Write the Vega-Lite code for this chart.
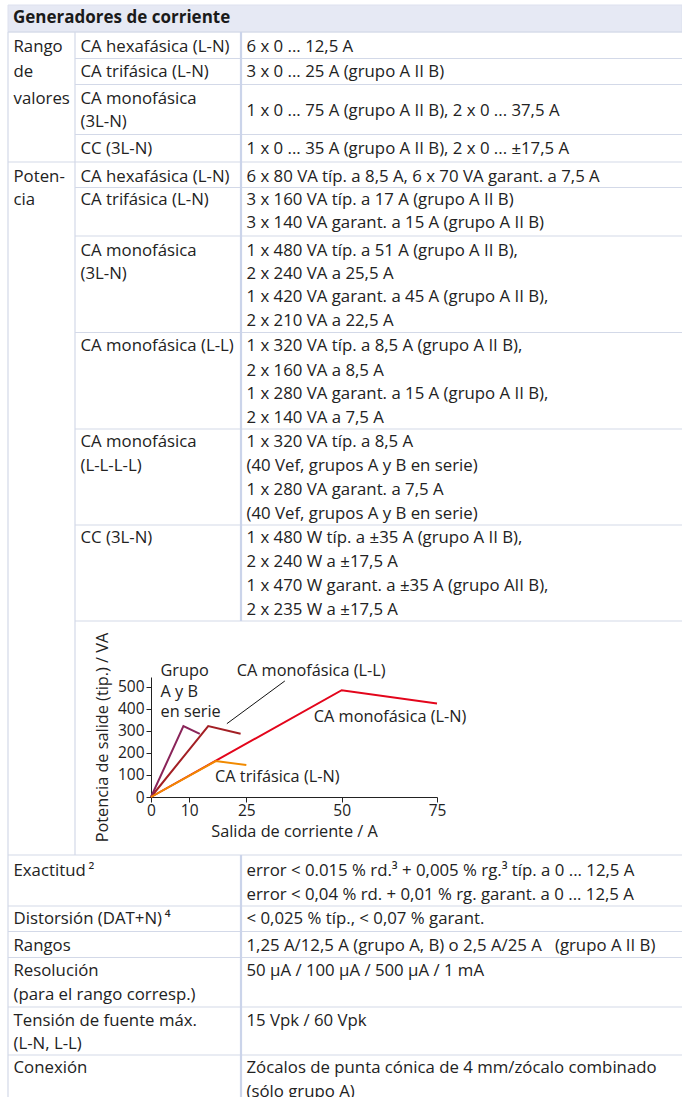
{
  "$schema": "https://vega.github.io/schema/vega-lite/v6.json",
  "width": 682,
  "height": 1097,
  "autosize": {"type": "fit", "contains": "padding"},
  "padding": 0,
  "background": "white",
  "config": {"view": {"stroke": null}, "font": "Open Sans"},
  "datasets": {
    "band": [{"x1": 0, "x2": 3, "y1": -0.5, "y2": 0.5}],
    "hl": [
      {"y": 0.5, "x1": 0, "x2": 3},
      {"y": 1.5, "x1": 1, "x2": 3},
      {"y": 2.5, "x1": 1, "x2": 3},
      {"y": 4.5, "x1": 1, "x2": 3},
      {"y": 5.5, "x1": 0, "x2": 3},
      {"y": 6.5, "x1": 1, "x2": 3},
      {"y": 8.5, "x1": 1, "x2": 3},
      {"y": 12.5, "x1": 1, "x2": 3},
      {"y": 16.5, "x1": 1, "x2": 3},
      {"y": 20.5, "x1": 1, "x2": 3},
      {"y": 24.5, "x1": 1, "x2": 3},
      {"y": 25.5, "x1": 0, "x2": 3},
      {"y": 27.5, "x1": 0, "x2": 3},
      {"y": 28.5, "x1": 0, "x2": 3},
      {"y": 29.5, "x1": 0, "x2": 3},
      {"y": 31.5, "x1": 0, "x2": 3},
      {"y": 33.5, "x1": 0, "x2": 3}
    ],
    "vthin": [
      {"x": 0, "y1": 0.5, "y2": 35.5},
      {"x": 1, "y1": 0.5, "y2": 25.5}
    ],
    "vthick": [
      {"x": 2, "y1": 0.5, "y2": 24.5},
      {"x": 2, "y1": 25.5, "y2": 35.5}
    ],
    "head": [{"c": 0, "l": 0, "t": "Generadores de corriente"}],
    "cells": [
      {"c": 0, "l": 1, "t": "Rango"},
      {"c": 1, "l": 1, "t": "CA hexafásica (L-N)"},
      {"c": 2, "l": 1, "t": "6 x 0 ... 12,5 A"},
      {"c": 0, "l": 2, "t": "de"},
      {"c": 1, "l": 2, "t": "CA trifásica (L-N)"},
      {"c": 2, "l": 2, "t": "3 x 0 ... 25 A (grupo A II B)"},
      {"c": 0, "l": 3, "t": "valores"},
      {"c": 1, "l": 3, "t": "CA monofásica"},
      {"c": 1, "l": 4, "t": "(3L-N)"},
      {"c": 2, "l": 3.5, "t": "1 x 0 ... 75 A (grupo A II B), 2 x 0 ... 37,5 A"},
      {"c": 1, "l": 5, "t": "CC (3L-N)"},
      {"c": 2, "l": 5, "t": "1 x 0 ... 35 A (grupo A II B), 2 x 0 ... ±17,5 A"},
      {"c": 0, "l": 6, "t": "Poten-"},
      {"c": 1, "l": 6, "t": "CA hexafásica (L-N)"},
      {"c": 2, "l": 6, "t": "6 x 80 VA típ. a 8,5 A, 6 x 70 VA garant. a 7,5 A"},
      {"c": 0, "l": 7, "t": "cia"},
      {"c": 1, "l": 7, "t": "CA trifásica (L-N)"},
      {"c": 2, "l": 7, "t": "3 x 160 VA típ. a 17 A (grupo A II B)"},
      {"c": 2, "l": 8, "t": "3 x 140 VA garant. a 15 A (grupo A II B)"},
      {"c": 1, "l": 9, "t": "CA monofásica"},
      {"c": 2, "l": 9, "t": "1 x 480 VA típ. a 51 A (grupo A II B),"},
      {"c": 1, "l": 10, "t": "(3L-N)"},
      {"c": 2, "l": 10, "t": "2 x 240 VA a 25,5 A"},
      {"c": 2, "l": 11, "t": "1 x 420 VA garant. a 45 A (grupo A II B),"},
      {"c": 2, "l": 12, "t": "2 x 210 VA a 22,5 A"},
      {"c": 1, "l": 13, "t": "CA monofásica (L-L)"},
      {"c": 2, "l": 13, "t": "1 x 320 VA típ. a 8,5 A (grupo A II B),"},
      {"c": 2, "l": 14, "t": "2 x 160 VA a 8,5 A"},
      {"c": 2, "l": 15, "t": "1 x 280 VA garant. a 15 A (grupo A II B),"},
      {"c": 2, "l": 16, "t": "2 x 140 VA a 7,5 A"},
      {"c": 1, "l": 17, "t": "CA monofásica"},
      {"c": 2, "l": 17, "t": "1 x 320 VA típ. a 8,5 A"},
      {"c": 1, "l": 18, "t": "(L-L-L-L)"},
      {"c": 2, "l": 18, "t": "(40 Vef, grupos A y B en serie)"},
      {"c": 2, "l": 19, "t": "1 x 280 VA garant. a 7,5 A"},
      {"c": 2, "l": 20, "t": "(40 Vef, grupos A y B en serie)"},
      {"c": 1, "l": 21, "t": "CC (3L-N)"},
      {"c": 2, "l": 21, "t": "1 x 480 W típ. a ±35 A (grupo A II B),"},
      {"c": 2, "l": 22, "t": "2 x 240 W a ±17,5 A"},
      {"c": 2, "l": 23, "t": "1 x 470 W garant. a ±35 A (grupo AII B),"},
      {"c": 2, "l": 24, "t": "2 x 235 W a ±17,5 A"},
      {"c": 0, "l": 26, "t": "Exactitud\u2009²"},
      {"c": 2, "l": 26, "t": "error < 0.015 % rd.³ + 0,005 % rg.³ típ. a 0 ... 12,5 A"},
      {"c": 2, "l": 27, "t": "error < 0,04 % rd. + 0,01 % rg. garant. a 0 ... 12,5 A"},
      {"c": 0, "l": 28, "t": "Distorsión (DAT+N)\u2009⁴"},
      {"c": 2, "l": 28, "t": "< 0,025 % típ., < 0,07 % garant."},
      {"c": 0, "l": 29, "t": "Rangos"},
      {"c": 2, "l": 29, "t": "1,25 A/12,5 A (grupo A, B) o 2,5 A/25 A \u00a0 (grupo A II B)"},
      {"c": 0, "l": 30, "t": "Resolución"},
      {"c": 2, "l": 30, "t": "50 µA / 100 µA / 500 µA / 1 mA"},
      {"c": 0, "l": 31, "t": "(para el rango corresp.)"},
      {"c": 0, "l": 32, "t": "Tensión de fuente máx."},
      {"c": 2, "l": 32, "t": "15 Vpk / 60 Vpk"},
      {"c": 0, "l": 33, "t": "(L-N, L-L)"},
      {"c": 0, "l": 34, "t": "Conexión"},
      {"c": 2, "l": 34, "t": "Zócalos de punta cónica de 4 mm/zócalo combinado"},
      {"c": 2, "l": 35, "t": "(sólo grupo A)"}
    ],
    "curves": [
      {"s": "LN", "a": 0, "p": 0},
      {"s": "LN", "a": 50, "p": 485},
      {"s": "LN", "a": 75, "p": 425},
      {"s": "LL", "a": 0, "p": 0},
      {"s": "LL", "a": 15, "p": 322},
      {"s": "LL", "a": 23.5, "p": 287},
      {"s": "serie", "a": 0, "p": 0},
      {"s": "serie", "a": 8.5, "p": 322},
      {"s": "serie", "a": 12.8, "p": 287},
      {"s": "tri", "a": 0, "p": 0},
      {"s": "tri", "a": 17, "p": 163},
      {"s": "tri", "a": 25, "p": 145}
    ],
    "leader": [{"a": 19.9, "p": 333, "a2": 35.1, "p2": 527}],
    "labels": [
      {"a": 2.5, "p": 572, "t": "Grupo"},
      {"a": 2.5, "p": 477, "t": "A y B"},
      {"a": 2.5, "p": 385, "t": "en serie"},
      {"a": 22.5, "p": 572, "t": "CA monofásica (L-L)"},
      {"a": 42.7, "p": 362, "t": "CA monofásica (L-N)"},
      {"a": 16.8, "p": 93, "t": "CA trifásica (L-N)"}
    ]
  },
  "layer": [
    {
      "layer": [
        {
          "data": {"name": "band"},
          "mark": {"type": "rect", "fill": "#e6e9f4", "stroke": "#dde1ee", "strokeWidth": 1, "clip": true},
          "encoding": {
            "x": {"field": "x1", "type": "quantitative", "axis": null, "scale": {"domain": [0, 1, 2, 3], "range": [8, 75, 241, 682], "nice": false, "zero": false}},
            "x2": {"field": "x2"},
            "y": {"field": "y1", "type": "quantitative", "axis": null, "scale": {"domain": [-0.5, 0, 0.5, 1, 2, 3, 4, 5, 6, 7, 8, 9, 10, 11, 12, 13, 14, 15, 16, 17, 18, 19, 20, 21, 22, 23, 24, 24.5, 25.5, 26, 27, 28, 29, 30, 31, 32, 33, 34, 35, 35.5], "range": [5, 18, 32, 46, 71, 98, 121, 148, 176, 199, 222, 250, 273, 296, 320, 345, 370, 393, 417, 441, 465, 489, 513, 537, 561, 585, 609, 621, 855, 870, 894, 918, 945, 970, 994, 1020, 1043, 1067, 1091, 1103], "nice": false, "zero": false}},
            "y2": {"field": "y2"}
          }
        },
        {
          "data": {"name": "hl"},
          "mark": {"type": "rule", "color": "#d3d9e8", "strokeWidth": 1.2, "clip": true},
          "encoding": {
            "x": {"field": "x1", "type": "quantitative", "axis": null},
            "x2": {"field": "x2"},
            "y": {"field": "y", "type": "quantitative", "axis": null}
          }
        },
        {
          "data": {"name": "vthin"},
          "mark": {"type": "rule", "color": "#d3d9e8", "strokeWidth": 1.2, "clip": true},
          "encoding": {
            "x": {"field": "x", "type": "quantitative", "axis": null},
            "y": {"field": "y1", "type": "quantitative", "axis": null},
            "y2": {"field": "y2"}
          }
        },
        {
          "data": {"name": "vthick"},
          "mark": {"type": "rule", "color": "#cbd4ea", "strokeWidth": 2.2, "clip": true},
          "encoding": {
            "x": {"field": "x", "type": "quantitative", "axis": null},
            "y": {"field": "y1", "type": "quantitative", "axis": null},
            "y2": {"field": "y2"}
          }
        },
        {
          "data": {"name": "head"},
          "mark": {"type": "text", "align": "left", "baseline": "middle", "dx": 5, "font": "Open Sans", "fontSize": 17, "fontWeight": "bold", "color": "#1a1a1a", "clip": true},
          "encoding": {
            "x": {"field": "c", "type": "quantitative", "axis": null},
            "y": {"field": "l", "type": "quantitative", "axis": null},
            "text": {"field": "t"}
          }
        },
        {
          "data": {"name": "cells"},
          "mark": {"type": "text", "align": "left", "baseline": "middle", "dx": 5.5, "dy": 1, "font": "Open Sans", "fontSize": 16.8, "color": "#222222", "clip": true},
          "encoding": {
            "x": {"field": "c", "type": "quantitative", "axis": null},
            "y": {"field": "l", "type": "quantitative", "axis": null},
            "text": {"field": "t"}
          }
        }
      ]
    },
    {
      "encoding": {
        "x": {
          "field": "a", "type": "quantitative",
          "scale": {"domain": [0, 75], "range": [151, 437], "nice": false, "zero": false},
          "axis": {"orient": "bottom", "offset": -300, "values": [0, 10, 25, 50, 75], "title": "Salida de corriente / A", "grid": false, "domainColor": "#222222", "tickColor": "#222222", "tickSize": 5, "labelFont": "Open Sans", "labelFontSize": 15.5, "labelColor": "#222222", "labelPadding": 1, "labelFlush": false, "labelOverlap": false, "titleFont": "Open Sans", "titleFontSize": 16.3, "titleFontWeight": "normal", "titleColor": "#222222", "titlePadding": 5}
        },
        "y": {
          "field": "p", "type": "quantitative",
          "scale": {"domain": [0, 545], "range": [797, 677], "nice": false, "zero": false},
          "axis": {"orient": "left", "offset": -151, "values": [0, 100, 200, 300, 400, 500], "title": "Potencia de salide (tip.) / VA", "grid": false, "domainColor": "#222222", "tickColor": "#222222", "tickSize": 5, "labelFont": "Open Sans", "labelFontSize": 15.5, "labelColor": "#222222", "labelPadding": 2, "labelFlush": false, "labelOverlap": false, "titleFont": "Open Sans", "titleFontSize": 16.3, "titleFontWeight": "normal", "titleColor": "#222222", "titlePadding": 7}
        }
      },
      "layer": [
        {
          "data": {"name": "curves"},
          "transform": [{"filter": "datum.s !== 'tri'"}],
          "mark": {"type": "line", "strokeWidth": 2},
          "encoding": {
            "color": {"field": "s", "type": "nominal", "legend": null, "scale": {"domain": ["LN", "LL", "serie", "tri"], "range": ["#e3051b", "#a31f24", "#8a2459", "#f18a00"]}}
          }
        },
        {
          "data": {"name": "curves"},
          "transform": [{"filter": "datum.s === 'tri'"}],
          "mark": {"type": "line", "strokeWidth": 2},
          "encoding": {
            "color": {"field": "s", "type": "nominal", "legend": null}
          }
        },
        {
          "data": {"name": "leader"},
          "mark": {"type": "rule", "color": "#111111", "strokeWidth": 1},
          "encoding": {
            "x2": {"field": "a2"},
            "y2": {"field": "p2"}
          }
        },
        {
          "data": {"name": "labels"},
          "mark": {"type": "text", "align": "left", "baseline": "middle", "font": "Open Sans", "fontSize": 16.3, "color": "#222222"},
          "encoding": {
            "text": {"field": "t"}
          }
        }
      ]
    }
  ],
  "resolve": {"scale": {"x": "independent", "y": "independent"}}
}
